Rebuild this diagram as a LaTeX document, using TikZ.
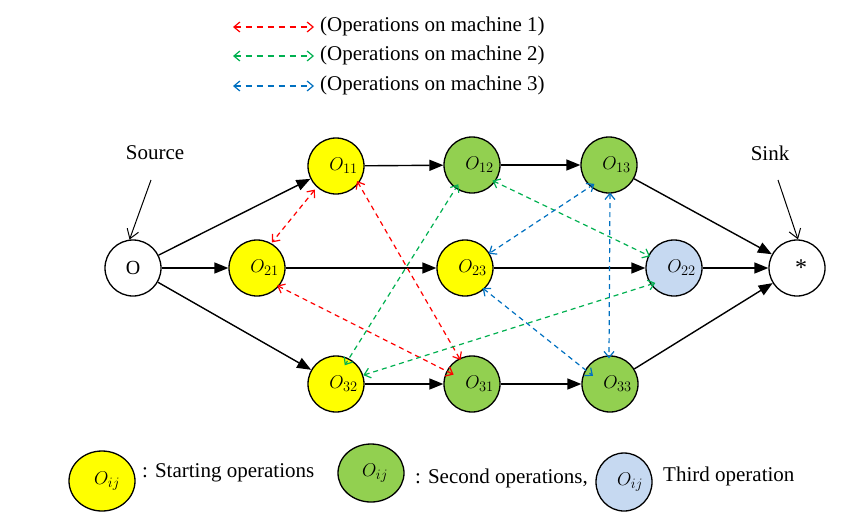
\documentclass[tikz,border=0pt]{standalone}
\usepackage{fix-cm}
\usepackage{fontspec}
\setmainfont{Liberation Serif}
\renewcommand\defaultscriptratio{.78}
\usetikzlibrary{arrows.meta,shapes.geometric}
\definecolor{myred}{RGB}{255,0,0}
\definecolor{mygreen}{RGB}{0,176,80}
\definecolor{myblue}{RGB}{0,112,192}
\definecolor{fillyellow}{RGB}{255,255,0}
\definecolor{fillgreen}{RGB}{146,208,80}
\definecolor{fillblue}{RGB}{198,217,241}
\begin{document}
\begin{tikzpicture}[x=1pt,y=-1pt,
  op/.style={circle,draw=black,line width=1.3pt,minimum size=56pt,inner sep=0pt,
             font=\fontsize{18.5}{21}\selectfont},
  legop/.style={ellipse,draw=black,line width=1.3pt,inner sep=0pt,
             font=\fontsize{18.5}{21}\selectfont},
  txt/.style={inner sep=0pt,font=\fontsize{21}{24}\selectfont},
  flow/.style={-{Triangle[length=14pt,width=11pt]},line width=1.4pt,black},
  pointer/.style={-{Straight Barb[length=9pt,width=12pt]},line width=1pt,black},
  mach/.style={dash pattern=on 5pt off 4pt,line width=1.2pt,
             {Straight Barb[length=6pt,width=10pt]}-{Straight Barb[length=6pt,width=10pt]}},
  mred/.style={mach,myred},
  mgreen/.style={mach,mygreen},
  mblue/.style={mach,myblue}]
\useasboundingbox (0,0) rectangle (850,520);

% top legend
\node[txt,anchor=west] (lg1) at (320,26) {(Operations on machine 1)};
\node[txt,anchor=west] (lg2) at (320,55) {(Operations on machine 2)};
\node[txt,anchor=west] (lg3) at (320,85) {(Operations on machine 3)};
\coordinate (lg1a) at (233,27);
\coordinate (lg2a) at (233,56);
\coordinate (lg3a) at (233,86);
\draw[mred,dash pattern=on 6pt off 5pt,shorten >=6pt] (lg1a) -- (lg1a -| lg1.west);
\draw[mgreen,dash pattern=on 6pt off 5pt,shorten >=6pt] (lg2a) -- (lg2a -| lg2.west);
\draw[mblue,dash pattern=on 6pt off 5pt,shorten >=6pt] (lg3a) -- (lg3a -| lg3.west);

% nodes
\node[op,fill=white,font=\fontsize{20}{22}\selectfont] (s) at (133,268) {O};
\node[op,fill=fillyellow] (o11) at (336,166) {\hspace{15pt}$O_{11}$};
\node[op,fill=fillyellow] (o21) at (257,268) {\hspace{15pt}$O_{21}$};
\node[op,fill=fillyellow] (o32) at (336,384) {\hspace{15pt}$O_{32}$};
\node[op,fill=fillgreen] (o12) at (472,165) {\hspace{15pt}$O_{12}$};
\node[op,fill=fillgreen] (o13) at (609,165) {\hspace{15pt}$O_{13}$};
\node[op,fill=fillyellow] (o23) at (465,268) {\hspace{15pt}$O_{23}$};
\node[op,fill=fillblue] (o22) at (674,268) {\hspace{15pt}$O_{22}$};
\node[op,fill=fillgreen] (o31) at (472,384) {\hspace{15pt}$O_{31}$};
\node[op,fill=fillgreen] (o33) at (610,384) {\hspace{15pt}$O_{33}$};
\node[op,fill=white,font=\fontsize{24}{26}\selectfont] (t) at (797,268) {\hspace{8pt}*};

% source / sink labels
\node[txt] (srclbl) at (155,153) {Source};
\node[txt] (snklbl) at (770,153) {Sink};
\coordinate (srcfoot) at (151,180);
\coordinate (snkfoot) at (778,180);
\draw[pointer] (srcfoot) -- (s.97);
\draw[pointer] (snkfoot) -- (t.88);

% precedence arcs
\draw[flow] (s) -- (o11);
\draw[flow] (s) -- (o21);
\draw[flow] (s) -- (o32);
\draw[flow] (o11) -- (o12);
\draw[flow] (o12) -- (o13);
\draw[flow] (o21) -- (o23);
\draw[flow] (o23) -- (o22);
\draw[flow] (o32) -- (o31);
\draw[flow] (o31) -- (o33);
\draw[flow] (o13) -- (t);
\draw[flow] (o22) -- (t);
\draw[flow] (o33) -- (t);

% machine 1
\draw[mred,shorten <=3pt,shorten >=1pt] (o11.228) -- (o21.60);
\draw[mred,shorten <=-3pt,shorten >=-2pt] (o11.-38) -- (o31.116);
\draw[mred,shorten <=-2pt,shorten >=-8pt] (o21.-40) -- (o31.153);
% machine 2
\draw[mgreen,shorten <=-5pt,shorten >=-8pt] (o12.235) -- (o32.63);
\draw[mgreen,shorten <=-3pt,shorten >=-2pt] (o12.-36) -- (o22.154);
\draw[mgreen,shorten <=0pt,shorten >=-5pt] (o32.18) -- (o22.215);
% machine 3
\draw[mblue,shorten <=-5pt,shorten >=-1pt] (o13.229) -- (o23.31);
\draw[mblue,shorten <=-1pt,shorten >=-3pt] (o13.272) -- (o33.92);
\draw[mblue,shorten <=-2pt,shorten >=-10pt] (o23.-48) -- (o33.150);

% bottom legend
\node[legop,fill=fillyellow,minimum width=66pt,minimum height=60pt] (ly) at (102,481) {\hspace{10pt}$O_{ij}$};
\node[txt,anchor=base west] (lyt) at (142,477) {: Starting operations};
\node[legop,fill=fillgreen,minimum width=66pt,minimum height=58pt] (lgr) at (371,473) {\hspace{8pt}$O_{ij}$};
\node[txt,anchor=base west] (lgt) at (415,483) {: Second operations,};
\node[legop,fill=fillblue,minimum width=56pt,minimum height=58pt] (lb) at (624,482) {\hspace{12pt}$O_{ij}$};
\node[txt,anchor=base west] (lbt) at (663,481) {Third operation};
\end{tikzpicture}
\end{document}
